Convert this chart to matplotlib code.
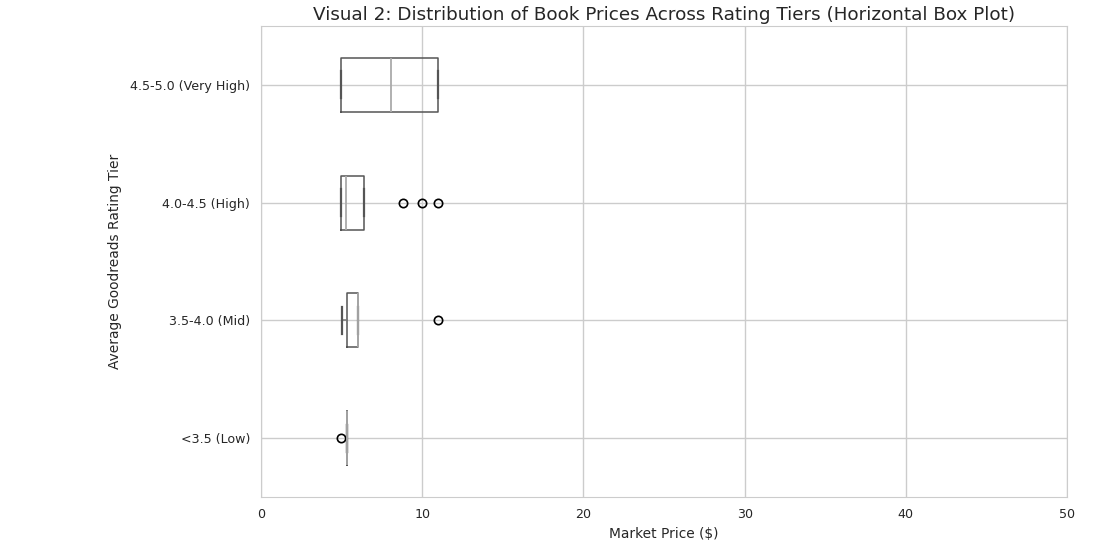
import matplotlib.pyplot as plt

tiers = ["<3.5 (Low)", "3.5-4.0 (Mid)", "4.0-4.5 (High)", "4.5-5.0 (Very High)"]
whislo = [5.33, 5.02, 4.99, 4.99]
q1 = [5.33, 5.33, 4.99, 4.99]
med = [5.33, 6.00, 5.27, 8.06]
q3 = [5.33, 6.02, 6.39, 10.99]
whishi = [5.33, 6.02, 6.39, 10.99]
fliers = [[4.99], [10.99], [8.79, 10.0, 10.99], []]

stats = []
for i, name in enumerate(tiers):
    stats.append({"label": name, "whislo": whislo[i], "q1": q1[i], "med": med[i],
                  "q3": q3[i], "whishi": whishi[i], "fliers": fliers[i]})

fig = plt.figure(figsize=(11.12, 5.52), dpi=100)
ax = fig.add_axes([261 / 1112, 55 / 552, 806 / 1112, 471 / 552])

ax.bxp(stats, positions=[1, 2, 3, 4], widths=0.46, vert=False,
       boxprops=dict(color="#555555", linewidth=1.1),
       whiskerprops=dict(color="#777777", linewidth=1.1),
       capprops=dict(color="#555555", linewidth=1.6),
       medianprops=dict(color="#aaaaaa", linewidth=1.3),
       flierprops=dict(marker="o", markerfacecolor="none", markeredgecolor="black",
                       markersize=6, markeredgewidth=1.2))

ax.set_xlim(0, 50)
ax.set_ylim(0.5, 4.5)
ax.set_xticks([0, 10, 20, 30, 40, 50])
ax.grid(True, color="#cccccc", linewidth=1)
ax.set_axisbelow(True)
for s in ax.spines.values():
    s.set_color("#cccccc")
ax.tick_params(length=0, labelsize=9.1, colors="#262626", pad=8)

ax.set_title("Visual 2: Distribution of Book Prices Across Rating Tiers (Horizontal Box Plot)",
             fontsize=13.2, color="#262626", pad=4)
ax.set_xlabel("Market Price ($)", fontsize=9.9, color="#262626", labelpad=4)
ax.set_ylabel("Average Goodreads Rating Tier", fontsize=9.9, color="#262626", labelpad=6)

fig.savefig("out.png", dpi=100)
